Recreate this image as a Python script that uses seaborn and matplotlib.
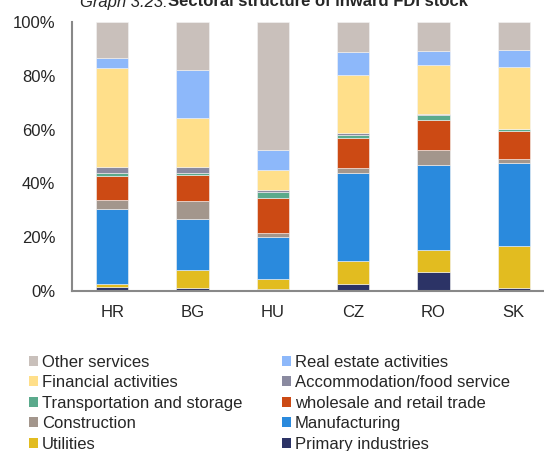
import numpy as np
import pandas as pd
import matplotlib
matplotlib.use("Agg")
import matplotlib.pyplot as plt
from matplotlib.patches import Patch
import seaborn as sns

# =========================
# DATA (shares in %)
# =========================

countries = ["HR", "BG", "HU", "CZ", "RO", "SK"]

primary       = [1.6, 1.2, 0.7, 2.7, 7.2, 1.2]
utilities     = [1.1, 6.7, 3.9, 8.6, 8.1, 15.7]
manufacturing = [27.7, 18.8, 15.3, 32.5, 31.4, 30.5]
construction  = [3.5, 6.9, 1.7, 2.1, 5.8, 1.6]
wholesale     = [9.0, 9.6, 13.0, 10.8, 11.1, 10.3]
transport     = [1.0, 0.6, 2.1, 1.2, 1.7, 0.9]
accommodation = [2.3, 2.4, 0.8, 0.7, 0.6, 0.2]
financial     = [36.7, 18.2, 7.4, 21.7, 18.2, 22.9]
real_estate   = [3.9, 17.6, 7.5, 8.7, 5.1, 6.3]
other         = [13.2, 18.0, 47.6, 11.0, 10.8, 10.4]

series_names = ["Primary industries", "Utilities", "Manufacturing", "Construction",
                "wholesale and retail trade", "Transportation and storage",
                "Accommodation/food service", "Financial activities",
                "Real estate activities", "Other services"]
series_vals = [primary, utilities, manufacturing, construction, wholesale,
               transport, accommodation, financial, real_estate, other]
colors = ["#2C3366", "#E2BC20", "#2A8ADD", "#A3968C", "#CC4A14",
          "#5BAA8C", "#8A8AA0", "#FFDF8A", "#8DB8FA", "#C9C0BB"]

# =========================
# PLOT
# =========================

sns.set_style("white")
plt.rcParams["font.family"] = ["Liberation Sans", "DejaVu Sans"]

fig = plt.figure(figsize=(5.44, 4.51), dpi=100)
W, H = 544, 451
ax = fig.add_axes([72 / W, 1 - 291 / H, (554 - 72) / W, (291 - 22) / H])

bottom = np.zeros(len(countries))
for name, vals, col in zip(series_names, series_vals, colors):
    df = pd.DataFrame({"country": countries, "value": vals})
    sns.barplot(data=df, x="country", y="value", color=col, bottom=bottom,
                width=0.4, ax=ax, edgecolor="#f4f4f4", linewidth=0.4,
                saturation=1)
    bottom += np.array(vals)

ax.set_ylim(0, 100)
ax.set_xlim(-0.5, 5.5)
ax.set_yticks([0, 20, 40, 60, 80, 100])
ax.set_yticklabels([f"{v}%" for v in [0, 20, 40, 60, 80, 100]])
ax.set_xlabel("")
ax.set_ylabel("")
ax.tick_params(axis="both", length=0, labelsize=12)
ax.tick_params(axis="y", pad=12)
ax.tick_params(axis="x", pad=10)
for s in ["top", "right"]:
    ax.spines[s].set_visible(False)
for s in ["left", "bottom"]:
    ax.spines[s].set_color("#888888")
    ax.spines[s].set_linewidth(1.5)

# title (partly clipped at top, as in the reference)
fig.text(168 / W, 1 - 2 / H, "Graph 3.23:", ha="right", va="center",
         fontsize=12, style="italic")
fig.text(168 / W, 1 - 2 / H, "Sectoral structure of inward FDI stock",
         ha="left", va="center", fontsize=12, fontweight="bold")

# legend, two columns filled row-wise like the original
order = ["Other services", "Financial activities", "Transportation and storage",
         "Construction", "Utilities",
         "Real estate activities", "Accommodation/food service",
         "wholesale and retail trade", "Manufacturing", "Primary industries"]
cmap = dict(zip(series_names, colors))
handles = [Patch(facecolor=cmap[n], edgecolor="none") for n in order]
fig.legend(handles, order, ncol=2, frameon=False, fontsize=12,
           loc="upper left", bbox_to_anchor=(22 / W, 1 - 348 / H),
           handlelength=0.55, handleheight=0.55, handletextpad=0.25,
           labelspacing=0.33, columnspacing=2.35, borderaxespad=0)

fig.savefig("out.png", dpi=100)
